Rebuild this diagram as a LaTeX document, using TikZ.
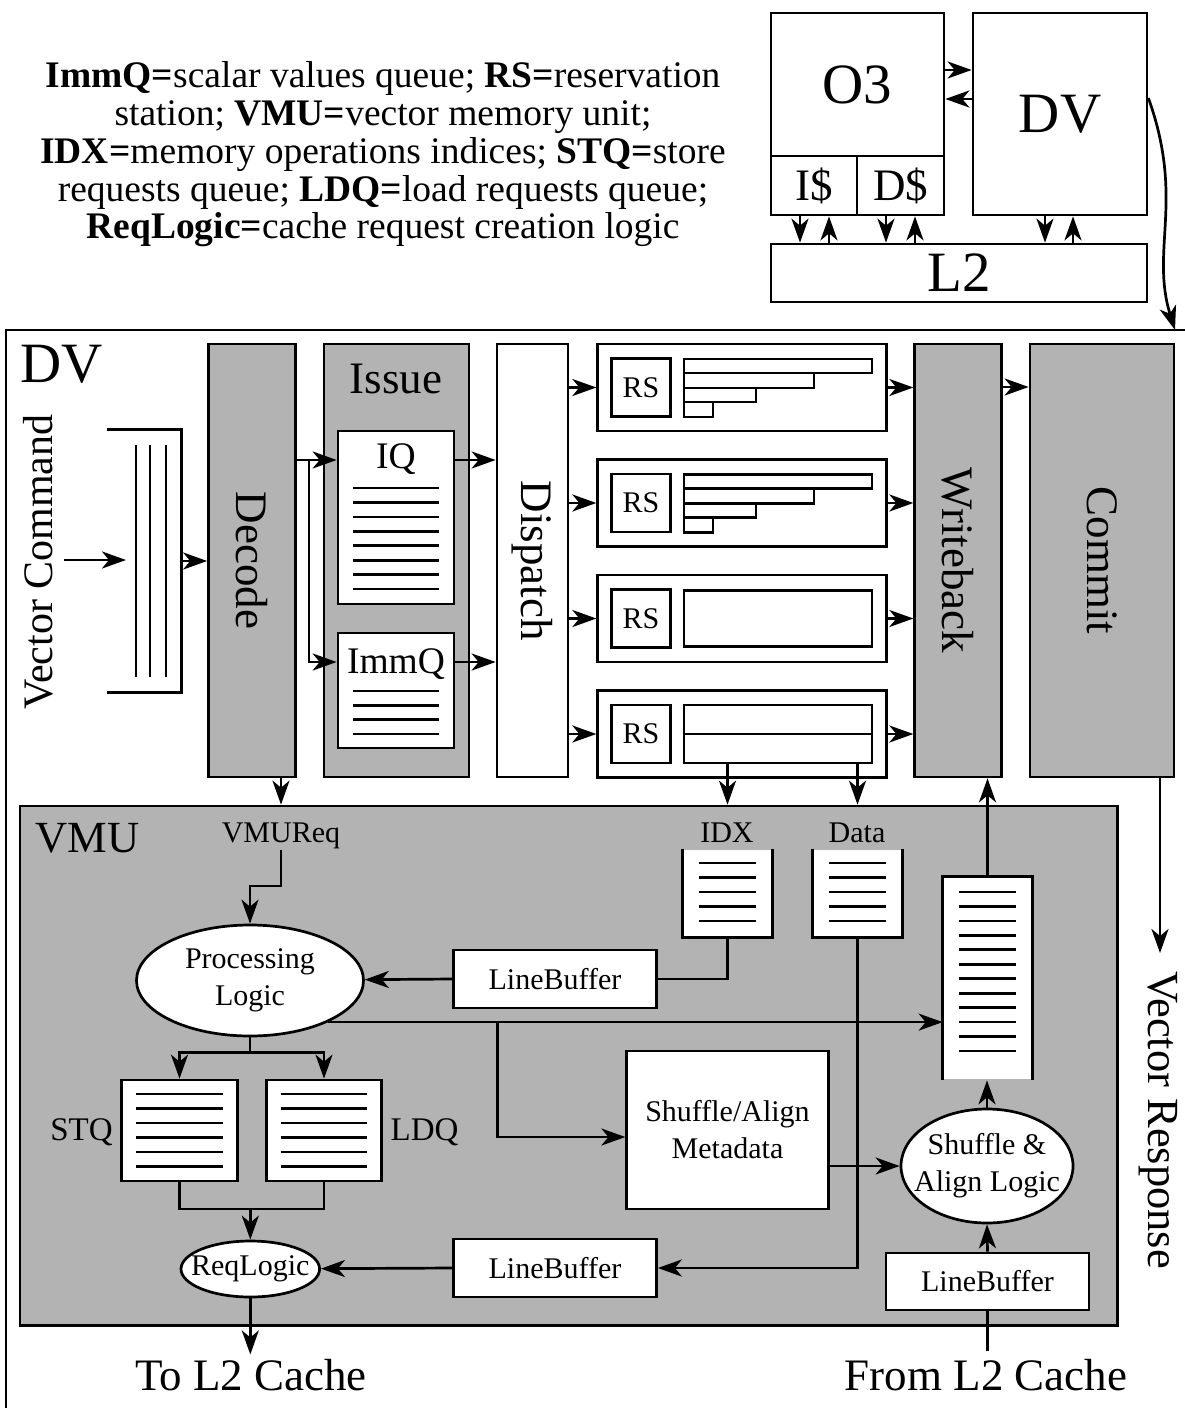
\documentclass[tikz,border=0pt]{standalone}
\usepackage{fontspec}
\setmainfont{Liberation Serif}
\usetikzlibrary{arrows.meta,shapes.geometric}
\definecolor{vgray}{RGB}{179,179,179}
\tikzset{
  ft30/.style={font=\fontsize{30}{37}\selectfont},
  ft33/.style={font=\fontsize{33}{38}\selectfont},
  ft37/.style={font=\fontsize{37.5}{37.9}\selectfont},
  ft42/.style={font=\fontsize{42}{48}\selectfont},
  ft44/.style={font=\fontsize{44.5}{50}\selectfont},
  ft45/.style={font=\fontsize{45}{52}\selectfont},
  ft57/.style={font=\fontsize{57}{64}\selectfont},
  wh/.style 2 args={minimum width=#1pt, minimum height=#2pt},
  box/.style={draw, fill=white, inner sep=0pt},
  gbox/.style={box, fill=vgray},
  ell/.style={draw, fill=white, ellipse, inner sep=0pt},
  arr/.style={-{Stealth[length=24pt,width=17pt,inset=7pt]}},
  txt/.style={inner sep=0pt},
}
\begin{document}
\begin{tikzpicture}[x=1pt,y=-1pt,line width=2.7pt]
\useasboundingbox (0,0) rectangle (1185,1408);
\clip (0,0) rectangle (1185,1408);

% ---------- legend ----------
\node[ft37, align=center, anchor=north, inner sep=0pt] (legend) at (383,60)
 {\textbf{ImmQ=}scalar values queue; \textbf{RS=}reservation\\
  station; \textbf{VMU=}vector memory unit;\\
  \textbf{IDX=}memory operations indices; \textbf{STQ=}store\\
  requests queue; \textbf{LDQ=}load requests queue;\\
  \textbf{ReqLogic=}cache request creation logic};

% ---------- system overview ----------
\node[box, wh={173}{143}, ft57] (o3) at (857.5,84.5) {O3};
\node[box, wh={86}{59}, ft45] (ic) at (814,185.5) {I\$};
\node[box, wh={87}{59}, ft45] (dc) at (900.5,185.5) {D\$};
\node[box, wh={174}{202}, ft57] (dvt) at (1060,114) {DV};
\node[box, wh={376}{58}, ft57] (l2) at (959,273) {L2};
\draw[arr] (o3.east |- 0,70) -- (dvt.west |- 0,70);
\draw[arr] (dvt.west |- 0,99) -- (o3.east |- 0,99);
\foreach \x/\n in {800/ic, 886/dc, 1045/dvt}
  \draw[arr] (\x,0 |- \n.south) -- (\x,0 |- l2.north);
\foreach \x/\n in {829/ic, 915/dc, 1073/dvt}
  \draw[arr] (\x,0 |- l2.north) -- (\x,0 |- \n.south);
\coordinate (dvin) at (1175,330);
\draw[arr] (dvt.east |- 0,98) .. controls (1185,200) and (1150,250) .. (dvin);

% ---------- DV frame ----------
\draw (6,330) rectangle (1200,1420);
\node[ft57, anchor=base west, txt] (dvlbl) at (19,382) {DV};

% VMU box (drawn early)
\node[gbox, wh={1097.5}{519.7}] (vmu) at (568.75,1065.85) {};
\node[ft44, anchor=base west, txt] (vmulbl) at (34,852) {VMU};

% vector command
\node[ft42, rotate=90, txt] (vcmd) at (38,562) {Vector Command};
\coordinate (vcin) at (64,560);
\coordinate (vcq) at (126,560);
\draw[arr] (vcin) -- (vcq);
\node[wh={72}{260}, inner sep=0pt] (cq) at (144,561) {};
\draw (cq.north west) -- (cq.north east) -- (cq.south east) -- (cq.south west);
\foreach \x in {136,150,166} \draw (\x,445) -- (\x,677);

% decode
\node[gbox, wh={87}{433}] (decode) at (252,560.5) {};
\node[ft45, rotate=-90] at (decode.center) {Decode};
\draw[arr] (cq.east) -- (cq.east -| decode.west);

% issue
\node[gbox, wh={145}{433}] (issue) at (396.5,560.5) {};
\node[ft45, anchor=base, txt] at (396,393) {Issue};
\node[box, wh={116}{173}] (iq) at (396,517.5) {};
\node[ft37, anchor=base, txt] at (396,468) {IQ};
\foreach \k in {0,...,7} \draw (353,488+14.43*\k) -- (439,488+14.43*\k);
\node[box, wh={116}{115}] (immq) at (396,690.5) {};
\node[ft37, anchor=base, txt] at (396,673) {ImmQ};
\foreach \k in {0,...,3} \draw (353,691+14.33*\k) -- (439,691+14.33*\k);
\draw[arr] (decode.east |- 0,460) -- (iq.west |- 0,460);
\draw[arr] (decode.east |- 0,460) -| (309,662) -- (immq.west |- 0,662);

% dispatch
\node[box, wh={71}{433}] (dispatch) at (532.5,560.5) {};
\node[ft45, rotate=-90] at (dispatch.center) {Dispatch};
\draw[arr] (iq.east |- 0,460) -- (dispatch.west |- 0,460);
\draw[arr] (immq.east |- 0,662) -- (dispatch.west |- 0,662);

% writeback, commit
\node[gbox, wh={87}{433}] (wb) at (958.2,560.5) {};
\node[ft45, rotate=-90] at (wb.center) {Writeback};
\node[gbox, wh={144}{433}] (commit) at (1102,560.5) {};
\node[ft45, rotate=-90] at (commit.center) {Commit};
\draw[arr] (wb.east |- 0,387) -- (commit.west |- 0,387);

% reservation stations
\foreach \i/\y in {1/387.5, 2/503, 3/618.5, 4/734} {
  \node[box, wh={289}{87}] (row\i) at (742.2,\y) {};
  \node[box, wh={59}{58}, ft30] (rs\i) at (641,\y) {RS};
  \draw[arr] (dispatch.east |- row\i.west) -- (row\i.west);
  \draw[arr] (row\i.east) -- (row\i.east -| wb.west);
}
\foreach \y in {387.5, 503} {
  \draw (684,\y-28.5) rectangle (872,\y-14.5);
  \draw (684,\y-14.5) rectangle (814,\y+0.5);
  \draw (684,\y+0.5) rectangle (756,\y+14.5);
  \draw (684,\y+14.5) rectangle (713,\y+29.5);
}
\node[box, wh={188}{56}] (r3bar) at (778,618.5) {};
\node[box, wh={188}{58}] (r4bar) at (778,734) {};
\draw (r4bar.west) -- (r4bar.east);

% vector response
\coordinate (vrin) at (1160,953);
\draw[arr] (commit.south -| vrin) -- (vrin);
\node[ft44, rotate=-90] (vresp) at (1158,1120) {Vector Response};

% ---------- VMU internals ----------
\node[ft30, txt, anchor=base] (vmureq) at (281,842) {VMUReq};
\draw[arr] (281,0 |- decode.south) -- (281,0 |- vmu.north);

\node[ell, wh={227}{111}] (pl) at (250,980.5) {};
\node[ft30, align=center] at (pl.center) {Processing\\Logic};
\draw[arr] (vmureq.south) -- (281,886) -| (pl.north);

\node[box, wh={203}{58}, ft30] (lb1) at (555,979) {LineBuffer};
\draw[arr] (lb1.west) -- (pl);
\node[box, wh={203}{58}, ft30] (lb2) at (555,1268) {LineBuffer};

% IDX / Data queues
\node[wh={87}{86}, fill=white, inner sep=0pt] (idxq) at (727.5,893) {};
\draw (idxq.north west) -- (idxq.south west) -- (idxq.south east) -- (idxq.north east);
\foreach \k in {0,...,4} \draw (699,863+14.5*\k) -- (756,863+14.5*\k);
\node[ft30, txt, anchor=base] (idxl) at (727,842) {IDX};
\node[wh={87}{86}, fill=white, inner sep=0pt] (dataq) at (857.5,893) {};
\draw (dataq.north west) -- (dataq.south west) -- (dataq.south east) -- (dataq.north east);
\foreach \k in {0,...,4} \draw (829,863+14.5*\k) -- (886,863+14.5*\k);
\node[ft30, txt, anchor=base] (datal) at (857,842) {Data};
\draw[arr] (idxq.north |- r4bar.south) -- (idxq.north |- vmu.north);
\draw[arr] (dataq.north |- r4bar.south) -- (dataq.north |- vmu.north);
\draw (idxq.south) |- (lb1.east);
\draw[arr] (dataq.south) |- (lb2.east);

% response queue
\node[wh={87}{201}, fill=white, inner sep=0pt] (respq) at (987.5,978.5) {};
\draw (respq.south west) -- (respq.north west) -- (respq.north east) -- (respq.south east);
\foreach \k in {0,...,11} \draw (959,892+14.45*\k) -- (1016,892+14.45*\k);
\draw[arr] (respq.north) -- (respq.north |- wb.south);

% shuffle / align
\node[box, wh={201.5}{158}, ft30, align=center] (meta) at (727.5,1130) {Shuffle/Align\\Metadata};
\node[ell, wh={172}{114}] (sa) at (987,1166) {};
\node[ft30, align=center] at (sa.center) {Shuffle \&\\Align Logic};
\coordinate (plr) at (pl.-28.8);
\draw[arr] (plr) -- (plr -| respq.west);
\draw[arr] (plr -| 497.5,0) |- ([yshift=-7pt]meta.west);
\draw[arr] (meta.east |- sa.west) -- (sa.west);
\draw[arr] (sa.north) -- (sa.north |- respq.south);
\node[box, wh={203}{57}, ft30] (lb3) at (987.5,1281.5) {LineBuffer};
\draw[arr] (lb3.north) -- (sa.south);
\node[ft45, anchor=base, inner sep=6pt] (froml2) at (986,1390) {From L2 Cache};
\draw (lb3.south |- froml2.north) -- (lb3.south);

% STQ / LDQ
\node[box, wh={115.6}{101}] (stq) at (179.5,1130.5) {};
\foreach \k in {0,...,5} \draw (136,1094+14.5*\k) -- (223,1094+14.5*\k);
\node[box, wh={115}{101}] (ldq) at (324,1130.5) {};
\foreach \k in {0,...,5} \draw (280.5,1094+14.5*\k) -- (366.6,1094+14.5*\k);
\node[ft33, txt, anchor=base] (stql) at (81.5,1140) {STQ};
\node[ft33, txt, anchor=base] (ldql) at (424.5,1140) {LDQ};
\draw[arr] (pl.south) -- ++(0,15) -| (stq.north);
\draw[arr] (pl.south) -- ++(0,15) -| (ldq.north);

% ReqLogic
\node[ell, wh={138.6}{56}] (rl) at (250.3,1269) {};
\node[ft30] at (rl.center) {ReqLogic};
\draw (stq.south) |- (ldq.south |- 0,1209) -- (ldq.south);
\draw[arr] (rl.north |- 0,1209) -- (rl.north);
\draw[arr] (lb2.west) -- (rl);
\node[ft45, anchor=base, inner sep=3pt] (tol2) at (251,1390) {To L2 Cache};
\draw[arr] (rl.south) -- (rl.south |- tol2.north);
\end{tikzpicture}
\end{document}
